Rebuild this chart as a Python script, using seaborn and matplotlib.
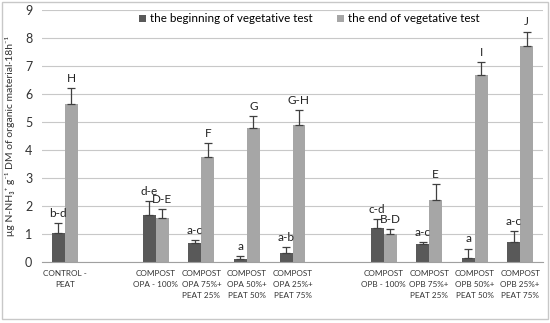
import pandas as pd
import numpy as np
import matplotlib.pyplot as plt
import seaborn as sns
from matplotlib.patches import Rectangle

# data
groups = ["CONTROL -\nPEAT", " ",
          "COMPOST\nOPA - 100%", "COMPOST\nOPA 75%+\nPEAT 25%",
          "COMPOST\nOPA 50%+\nPEAT 50%", "COMPOST\nOPA 25%+\nPEAT 75%", "  ",
          "COMPOST\nOPB - 100%", "COMPOST\nOPB 75%+\nPEAT 25%",
          "COMPOST\nOPB 50%+\nPEAT 50%", "COMPOST\nOPB 25%+\nPEAT 75%"]
samples = [g for g in groups if g.strip()]

begin_vals = [1.03, 1.67, 0.67, 0.11, 0.33, 1.23, 0.64, 0.13, 0.72]
begin_err = [0.37, 0.52, 0.11, 0.09, 0.19, 0.30, 0.07, 0.35, 0.39]
begin_lbl = ["b-d", "d-e", "a-c", "a", "a-b", "c-d", "a-c", "a", "a-c"]

end_vals = [5.64, 1.56, 3.74, 4.77, 4.88, 0.99, 2.21, 6.68, 7.72]
end_err = [0.56, 0.32, 0.50, 0.44, 0.56, 0.19, 0.56, 0.46, 0.51]
end_lbl = ["H", "D-E", "F", "G", "G-H", "B-D", "E", "I", "J"]

series = ["the beginning of vegetative test", "the end of vegetative test"]

df = pd.DataFrame({
    "sample": samples * 2,
    "series": [series[0]] * len(samples) + [series[1]] * len(samples),
    "value": begin_vals + end_vals,
})

plt.rcParams['font.family'] = ['Lato', 'DejaVu Sans']

fig = plt.figure(figsize=(5.5, 3.23), dpi=100)
ax = fig.add_axes([42 / 550, 61 / 323, 501 / 550, 252 / 323])

sns.barplot(data=df, x="sample", y="value", hue="series", order=groups,
            hue_order=series, palette=["#595959", "#a6a6a6"], width=0.57,
            errorbar=None, saturation=1, ax=ax, zorder=2)

# upward-only error bars and letter labels
errs = [begin_err, end_err]
lbls = [begin_lbl, end_lbl]
for k, cont in enumerate(ax.containers[:2]):
    bars = [b for b in cont if b.get_height() > 0]
    xs = [b.get_x() + b.get_width() / 2 for b in bars]
    hs = [b.get_height() for b in bars]
    ax.errorbar(xs, hs, yerr=[np.zeros(len(hs)), errs[k]], fmt="none",
                ecolor="#404040", elinewidth=0.9, capsize=3, capthick=0.9, zorder=3)
    for x, h, e, t in zip(xs, hs, errs[k], lbls[k]):
        ax.annotate(t, (x, h + e), xytext=(0, 3), textcoords="offset points",
                    ha="center", va="bottom", fontsize=8.5, color="#222222")

ax.set_ylim(0, 9)
ax.set_xlim(-0.5, len(groups) - 0.5)
ax.set_yticks(range(10))
ax.set_xticks(range(len(groups)), groups, multialignment="center",
              linespacing=1.6)
ax.yaxis.grid(True, color="#c8c8c8", linewidth=0.8, zorder=0)
ax.set_axisbelow(True)
ax.tick_params(axis="y", labelsize=9, length=0, pad=7, colors="#333333")
ax.tick_params(axis="x", labelsize=5.9, length=0, pad=6, colors="#333333")
ax.set_xlabel("")
ax.set_ylabel("μg N-NH₃⁺ g⁻¹ DM of organic material·18h⁻¹",
              fontsize=7.5, color="#333333", labelpad=7)
for s in ["top", "right", "left"]:
    ax.spines[s].set_visible(False)
ax.spines["bottom"].set_color("#a0a0a0")

handles, labels = ax.get_legend_handles_labels()
ax.legend(handles, labels, loc="center", bbox_to_anchor=(0.533, 0.965), ncol=2,
          frameon=False, fontsize=8.4, handlelength=0.6, handleheight=0.6,
          handletextpad=0.35, columnspacing=2.1)

fig.patches.append(Rectangle((2 / 550, 4 / 323), 546 / 550, 317 / 323, fill=False,
                             edgecolor="#c8c8c8", linewidth=1,
                             transform=fig.transFigure))

fig.savefig("out.png", dpi=100)
